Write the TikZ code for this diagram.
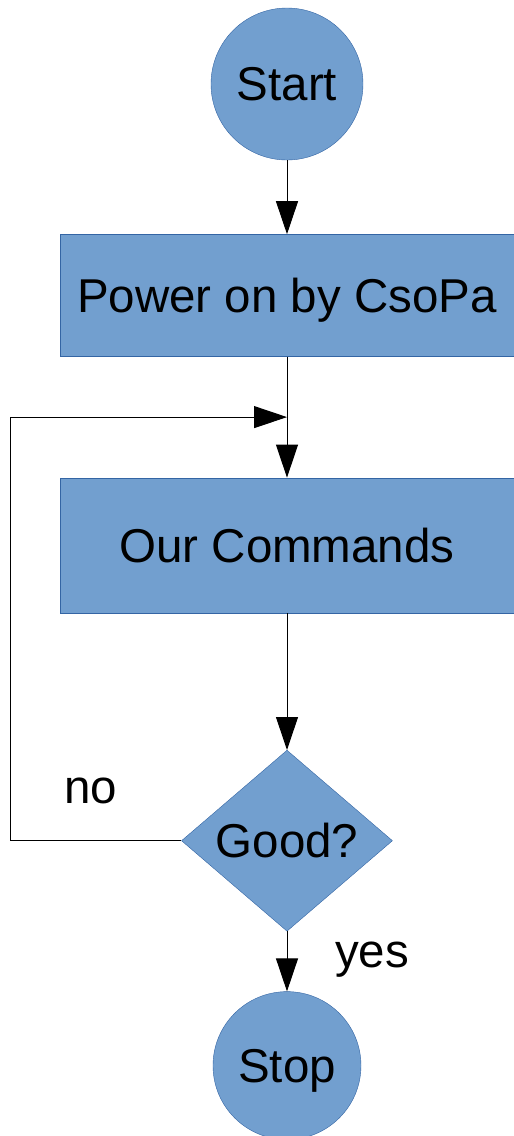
\documentclass[tikz,border=0pt]{standalone}
\usepackage{fontspec}
\setmainfont{Liberation Sans}
\usetikzlibrary{positioning}
\usetikzlibrary{arrows.meta}
\usetikzlibrary{shapes.geometric,calc}
\definecolor{boxfill}{HTML}{729FCF}
\definecolor{boxline}{HTML}{3465A4}

\begin{document}
\begin{tikzpicture}[
  x=1pt, y=-1pt,
  every node/.style = {font=\fontsize{47.5}{56}\selectfont, inner sep=0pt},
  terminal/.style = {circle, draw=boxline, fill=boxfill, minimum size=152pt, text depth=0pt},
  process/.style = {rectangle, draw=boxline, fill=boxfill, minimum width=454pt, minimum height=122pt, text depth=0pt},
  decision/.style = {diamond, aspect=1.17, draw=boxline, fill=boxfill,
    minimum width=211pt, minimum height=181pt, text depth=0pt},
  flow/.style = {line width=1pt, black},
  >={Triangle[length=33pt, width=22pt]},
]
  \useasboundingbox (0,0) rectangle (514,1136);

  % the steps
  \node[terminal] (start) at (287,84) {Start};
  \node[process, below=74pt of start] (power) {Power on by CsoPa};
  \node[process, below=121pt of power, minimum height=135pt] (cmds) {Our Commands};
  \node[decision, below=137pt of cmds] (good) {Good?};
  \node[terminal, below=60pt of good, minimum size=148pt] (stop) {Stop};

  \coordinate (loopin) at ($(power.south)!0.5!(cmds.north)$);
  \coordinate (leftx) at (10,0);

  % connectors
  \draw[flow,->] (start) -- (power);
  \draw[flow,->] (power) -- (cmds);
  \draw[flow,->] (cmds) -- (good);
  \draw[flow,->] (good) -- (stop);
  \draw[flow,->] (good.west) -- (good.west -| leftx) |- (loopin);

  \node[anchor=base] (no) at (91,803) {no};
  \node[anchor=base] (yes) at (372,967) {yes};

\end{tikzpicture}
\end{document}
